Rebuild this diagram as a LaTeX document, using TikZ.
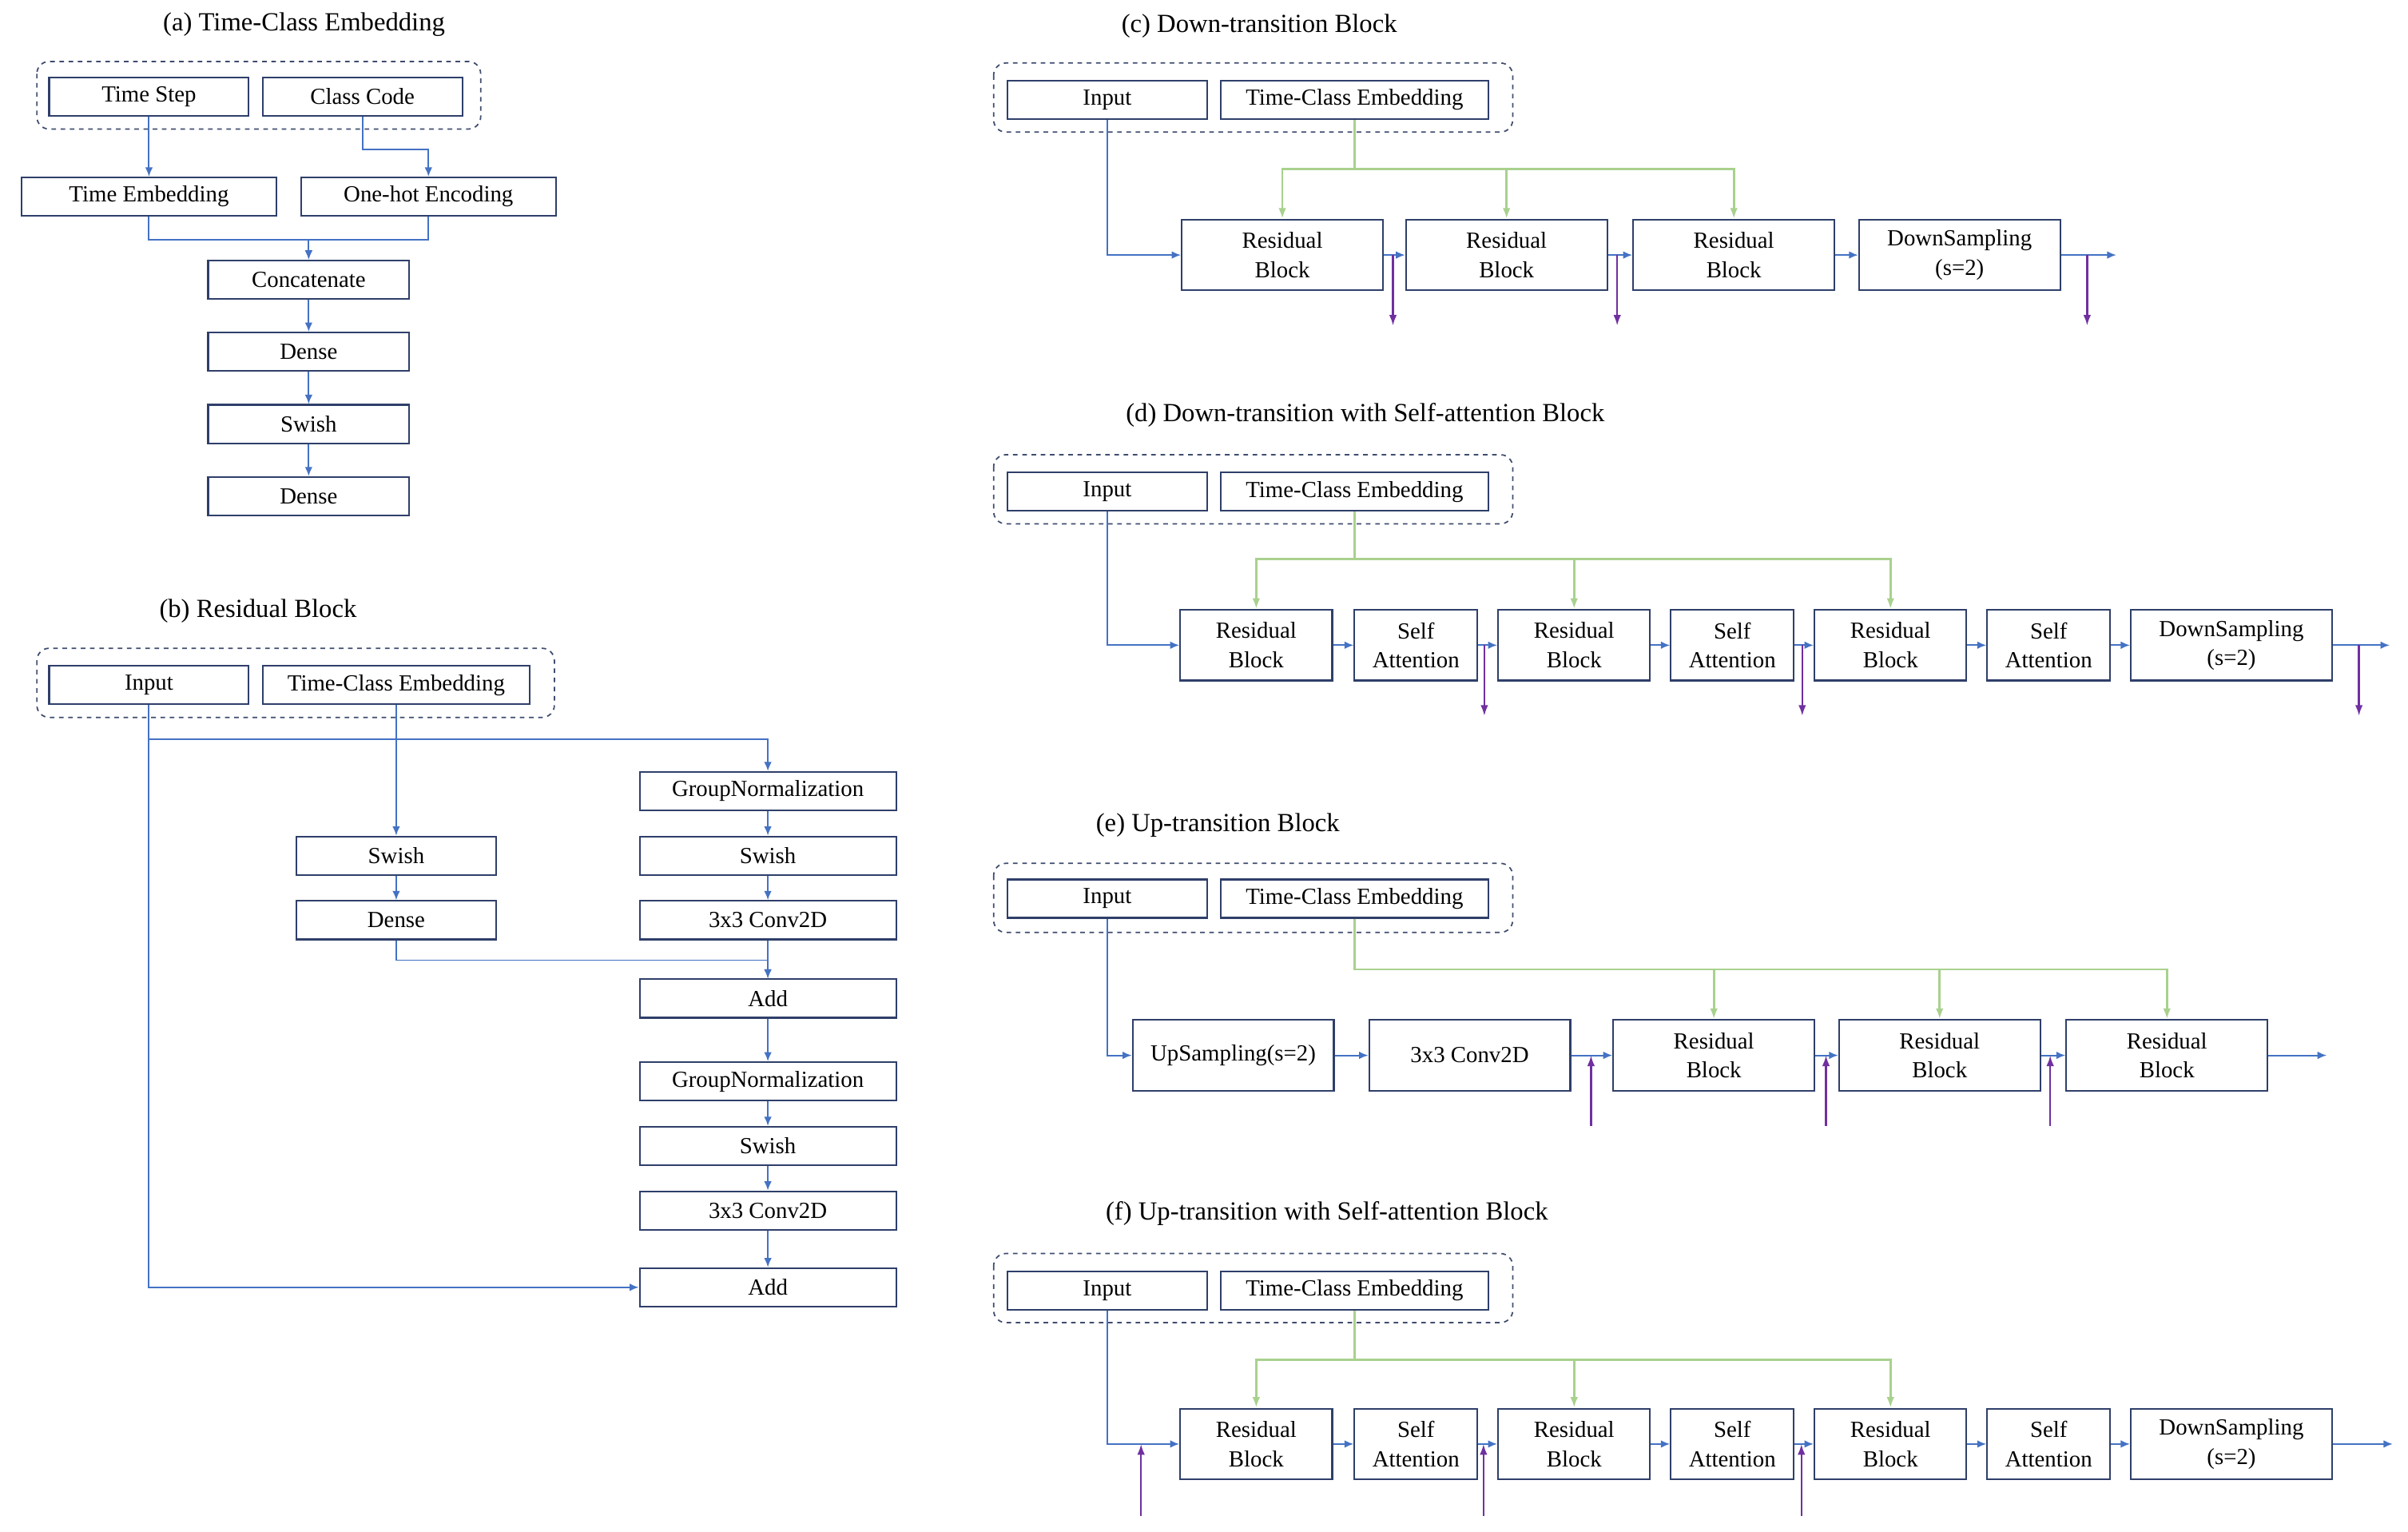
\documentclass[tikz,border=0pt]{standalone}
\usepackage{fontspec}
\setmainfont{Liberation Serif}
\usetikzlibrary{arrows.meta,calc}
\definecolor{bl}{HTML}{4472C4}
\definecolor{nv}{HTML}{2F3F6A}
\definecolor{gr}{HTML}{A9D18E}
\definecolor{pu}{HTML}{7030A0}
\begin{document}
\begin{tikzpicture}[x=1pt,y=-1pt,
  box/.style={draw=nv,line width=1.1pt,fill=white,inner sep=0pt,align=center,font=\fontsize{15}{19}\selectfont,minimum height=25pt},
  tall/.style={box,minimum height=46pt},
  ttl/.style={font=\fontsize{17}{20}\selectfont},
  grp/.style={draw=nv!80!gray,dashed,line width=0.9pt,rounded corners=8pt},
  arr/.style={draw=bl,line width=1pt,-{Latex[length=6pt,width=5pt]}},
  garr/.style={draw=gr,line width=1.4pt,-{Latex[length=7pt,width=5pt]}},
  parr/.style={draw=pu,line width=1.2pt,-{Latex[length=7pt,width=5pt]}}]
\useasboundingbox (0,0) rectangle (1568,997);
% ---------------- (a)
\node[ttl] (ta) at (198,16) {(a) Time-Class Embedding};
\draw[grp] (24,40) rectangle (313,84);
\node[box,minimum width=130pt] (ts) at (97,63) {Time Step};
\node[box,minimum width=130pt] (cc) at (236,63) {Class Code};
\node[box,minimum width=166pt] (te) at (97,128) {Time Embedding};
\node[box,minimum width=166pt] (oh) at (279,128) {One-hot Encoding};
\node[box,minimum width=131pt] (cat) at (201,182) {Concatenate};
\node[box,minimum width=131pt] (d1) at (201,229) {Dense};
\node[box,minimum width=131pt] (s1) at (201,276) {Swish};
\node[box,minimum width=131pt] (d2) at (201,323) {Dense};
\draw[arr] (ts) -- (te);
\draw[arr] (cc.south) -- ++(0,21) -| (oh.north);
\draw[arr] (te.south) -- ++(0,15) -| (cat.north);
\draw[arr] (oh.south) -- ++(0,15) -| (cat.north);
\draw[arr] (cat) -- (d1);
\draw[arr] (d1) -- (s1);
\draw[arr] (s1) -- (d2);
% ---------------- (b)
\node[ttl] (tb) at (168,398) {(b) Residual Block};
\draw[grp] (24,422) rectangle (361,467);
\node[box,minimum width=130pt] (bin) at (97,446) {Input};
\node[box,minimum width=174pt] (btc) at (258,446) {Time-Class Embedding};
\node[box,minimum width=130pt] (bsw) at (258,557) {Swish};
\node[box,minimum width=130pt] (bde) at (258,599) {Dense};
\node[box,minimum width=167pt] (bg1) at (500,515) {GroupNormalization};
\node[box,minimum width=167pt] (bs1) at (500,557) {Swish};
\node[box,minimum width=167pt] (bc1) at (500,599) {3x3 Conv2D};
\node[box,minimum width=167pt] (ba1) at (500,650) {Add};
\node[box,minimum width=167pt] (bg2) at (500,704) {GroupNormalization};
\node[box,minimum width=167pt] (bs2) at (500,746) {Swish};
\node[box,minimum width=167pt] (bc2) at (500,788) {3x3 Conv2D};
\node[box,minimum width=167pt] (ba2) at (500,838) {Add};
\draw[arr] (bin.south) |- (ba2.west);
\draw[arr] ($(bin.south)+(0,22)$) -| (bg1.north);
\draw[arr] (btc) -- (bsw);
\draw[arr] (bsw) -- (bde);
\draw[arr] (bde.south) -- ++(0,13) -| (ba1.north);
\draw[arr] (bg1) -- (bs1);
\draw[arr] (bs1) -- (bc1);
\draw[arr] (bc1) -- (ba1);
\draw[arr] (ba1) -- (bg2);
\draw[arr] (bg2) -- (bs2);
\draw[arr] (bs2) -- (bc2);
\draw[arr] (bc2) -- (ba2);
% ---------------- (c)
\node[ttl] (tc) at (820,17) {(c) Down-transition Block};
\draw[grp] (647,41) rectangle (985,86);
\node[box,minimum width=130pt] (cin) at (721,65) {Input};
\node[box,minimum width=174pt] (ctc) at (882,65) {Time-Class Embedding};
\node[tall,minimum width=131pt] (cr1) at (835,166) {Residual\\Block};
\node[tall,minimum width=131pt] (cr2) at (981,166) {Residual\\Block};
\node[tall,minimum width=131pt] (cr3) at (1129,166) {Residual\\Block};
\node[tall,minimum width=131pt] (cds) at (1276,166) {DownSampling\\(s=2)};
\draw[arr] (cin.south) |- (cr1.west);
\foreach \t in {cr1,cr2,cr3}{\draw[garr] (ctc.south) -- ++(0,32) -| (\t.north);}
\draw[arr] (cr1) -- (cr2);
\draw[arr] (cr2) -- (cr3);
\draw[arr] (cr3) -- (cds);
\draw[arr] (cds.east) -- ++(36,0) coordinate (cout);
\draw[parr] ($(cr1.east)+(6,0)$) coordinate (cp1) -- ++(0,46);
\draw[parr] ($(cr2.east)+(6,0)$) coordinate (cp2) -- ++(0,46);
\draw[parr] ($(cds.east)+(17,0)$) coordinate (cp3) -- ++(0,46);
% ---------------- (d)
\node[ttl] (td) at (889,270) {(d) Down-transition with Self-attention Block};
\draw[grp] (647,296) rectangle (985,341);
\node[box,minimum width=130pt] (din) at (721,320) {Input};
\node[box,minimum width=174pt] (dtc) at (882,320) {Time-Class Embedding};
\node[tall,minimum width=99pt] (dr1) at (818,420) {Residual\\Block};
\node[tall,minimum width=80pt] (da1) at (922,420) {Self\\Attention};
\node[tall,minimum width=99pt] (dr2) at (1025,420) {Residual\\Block};
\node[tall,minimum width=80pt] (da2) at (1128,420) {Self\\Attention};
\node[tall,minimum width=99pt] (dr3) at (1231,420) {Residual\\Block};
\node[tall,minimum width=80pt] (da3) at (1334,420) {Self\\Attention};
\node[tall,minimum width=131pt] (dds) at (1453,420) {DownSampling\\(s=2)};
\draw[arr] (din.south) |- (dr1.west);
\foreach \t in {dr1,dr2,dr3}{\draw[garr] (dtc.south) -- ++(0,31) -| (\t.north);}
\draw[arr] (dr1) -- (da1);
\draw[arr] (da1) -- (dr2);
\draw[arr] (dr2) -- (da2);
\draw[arr] (da2) -- (dr3);
\draw[arr] (dr3) -- (da3);
\draw[arr] (da3) -- (dds);
\draw[arr] (dds.east) -- ++(37,0) coordinate (dout);
\draw[parr] ($(da1.east)+(4,0)$) coordinate (dp1) -- ++(0,46);
\draw[parr] ($(da2.east)+(5,0)$) coordinate (dp2) -- ++(0,46);
\draw[parr] ($(dds.east)+(17,0)$) coordinate (dp3) -- ++(0,46);
% ---------------- (e)
\node[ttl] (te2) at (793,537) {(e) Up-transition Block};
\draw[grp] (647,562) rectangle (985,607);
\node[box,minimum width=130pt] (ein) at (721,585) {Input};
\node[box,minimum width=174pt] (etc) at (882,585) {Time-Class Embedding};
\node[tall,minimum width=131pt] (eup) at (803,687) {UpSampling(s=2)};
\node[tall,minimum width=131pt] (ecv) at (957,687) {3x3 Conv2D};
\node[tall,minimum width=131pt] (er1) at (1116,687) {Residual\\Block};
\node[tall,minimum width=131pt] (er2) at (1263,687) {Residual\\Block};
\node[tall,minimum width=131pt] (er3) at (1411,687) {Residual\\Block};
\draw[arr] (ein.south) |- (eup.west);
\foreach \t in {er1,er2,er3}{\draw[garr] (etc.south) -- ++(0,33) -| (\t.north);}
\draw[arr] (eup) -- (ecv);
\draw[arr] (ecv) -- (er1);
\draw[arr] (er1) -- (er2);
\draw[arr] (er2) -- (er3);
\draw[arr] (er3.east) -- ++(38,0) coordinate (eout);
\coordinate (ep1) at (1036,733);
\coordinate (ep2) at (1189,733);
\coordinate (ep3) at (1335,733);
\draw[parr] (ep1) -- ++(0,-46);
\draw[parr] (ep2) -- ++(0,-46);
\draw[parr] (ep3) -- ++(0,-46);
% ---------------- (f)
\node[ttl] (tf) at (864,790) {(f) Up-transition with Self-attention Block};
\draw[grp] (647,816) rectangle (985,861);
\node[box,minimum width=130pt] (fin) at (721,840) {Input};
\node[box,minimum width=174pt] (ftc) at (882,840) {Time-Class Embedding};
\node[tall,minimum width=99pt] (fr1) at (818,940) {Residual\\Block};
\node[tall,minimum width=80pt] (fa1) at (922,940) {Self\\Attention};
\node[tall,minimum width=99pt] (fr2) at (1025,940) {Residual\\Block};
\node[tall,minimum width=80pt] (fa2) at (1128,940) {Self\\Attention};
\node[tall,minimum width=99pt] (fr3) at (1231,940) {Residual\\Block};
\node[tall,minimum width=80pt] (fa3) at (1334,940) {Self\\Attention};
\node[tall,minimum width=131pt] (fds) at (1453,940) {DownSampling\\(s=2)};
\draw[arr] (fin.south) |- (fr1.west);
\foreach \t in {fr1,fr2,fr3}{\draw[garr] (ftc.south) -- ++(0,32) -| (\t.north);}
\draw[arr] (fr1) -- (fa1);
\draw[arr] (fa1) -- (fr2);
\draw[arr] (fr2) -- (fa2);
\draw[arr] (fa2) -- (fr3);
\draw[arr] (fr3) -- (fa3);
\draw[arr] (fa3) -- (fds);
\draw[arr] (fds.east) -- ++(39,0) coordinate (fout);
\coordinate (fp1) at (743,987);
\coordinate (fp2) at (966,987);
\coordinate (fp3) at (1173,987);
\draw[parr] (fp1) -- ++(0,-47);
\draw[parr] (fp2) -- ++(0,-47);
\draw[parr] (fp3) -- ++(0,-47);
\end{tikzpicture}
\end{document}
